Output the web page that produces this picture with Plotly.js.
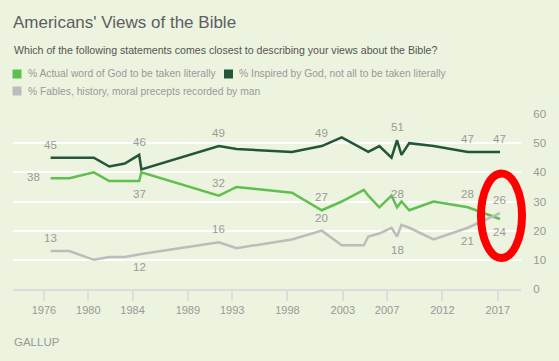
<!DOCTYPE html>
<html><head><meta charset="utf-8">
<script src="https://cdn.plot.ly/plotly-3.0.1.min.js"></script>
<style>html,body{margin:0;padding:0;background:#ecf3de}#chart{width:559px;height:361px}</style>
</head><body><div id="chart"></div>
<script>
// ---- data ----
const surveyYears = [1976.6, 1978.3, 1980.5, 1981.9, 1983.3, 1984.6, 1984.8, 1991.8, 1993.4, 1998.4, 2001.1, 2002.9, 2004.9, 2005.3, 2006.3, 2007.4, 2007.9, 2008.3, 2009.0, 2011.2, 2014.3, 2017.2];
const literal  = [38, 38, 40, 37, 37, 37, 40, 32, 35, 33, 27, 30, 34, 32, 28, 32, 28, 30, 27, 30, 28, 24];
const inspired = [45, 45, 45, 42, 43, 46, 41, 49, 48, 47, 49, 52, 48, 47, 49, 45, 51, 46, 50, 49, 47, 47];
const fables   = [13, 13, 10, 11, 11, 12, 12, 16, 14, 17, 20, 15, 15, 18, 19, 21, 18, 22, 21, 17, 21, 26];
const seriesNames = [
  '% Actual word of God to be taken literally',
  '% Inspired by God, not all to be taken literally',
  '% Fables, history, moral precepts recorded by man'
];
const tickYears = [1976, 1980, 1984, 1989, 1993, 1998, 2003, 2007, 2012, 2017];
const yTicks = [0, 10, 20, 30, 40, 50, 60];
const labelIdx = [0, 5, 7, 10, 16, 20, 21];
const titleText = "Americans' Views of the Bible";
const subtitleText = 'Which of the following statements comes closest to describing your views about the Bible?';
const sourceText = 'GALLUP';

// ---- styling ----
const colors = ['#5fbf4f', '#22553a', '#bcbcbc'];
const labelPos = [
  ['l', 'b', 'a', 'a', 'a', 'a', 'b'],   // literal
  ['a', 'a', 'a', 'a', 'a', 'a', 'a'],   // inspired
  ['a', 'b', 'a', 'a', 'b', 'b', 'a']    // fables
];
const W = 559, H = 361, L = 13, R = 38, T = 114, B = 72;
const px = p => (p - L) / (W - L - R);
const py = p => (H - B - p) / (H - T - B);
const FONT = 'Liberation Sans, Arial, sans-serif';
const labelColor = '#9a9a9a';

const seriesVals = [literal, inspired, fables];
const traces = seriesVals.map((vals, k) => ({
  type: 'scatter', mode: 'lines', x: surveyYears, y: vals, name: seriesNames[k],
  line: {color: colors[k], width: 2.5}, showlegend: false, hoverinfo: 'x+y'
}));

const annotations = [];
seriesVals.forEach((vals, k) => {
  labelIdx.forEach((i, j) => {
    const p = labelPos[k][j];
    annotations.push({
      xref: 'x', yref: 'y', x: surveyYears[i], y: vals[i], text: String(vals[i]),
      showarrow: false, font: {family: FONT, size: 11.5, color: labelColor},
      yshift: p === 'a' ? 13 : (p === 'b' ? -13 : 1), xshift: p === 'l' ? -17 : 0
    });
  });
});
// subtitle
annotations.push({xref: 'paper', yref: 'paper', x: px(12), y: py(50), xanchor: 'left', yanchor: 'middle',
  text: subtitleText, showarrow: false, font: {family: FONT, size: 10.6, color: '#555'}});
// legend (manual, to match the reference layout)
const legendPos = [[12.5, 74], [224, 74], [12.5, 91]];
const shapes = [];
legendPos.forEach((pos, k) => {
  shapes.push({type: 'rect', xref: 'paper', yref: 'paper', x0: px(pos[0]), x1: px(pos[0] + 9),
    y0: py(pos[1] + 4.5), y1: py(pos[1] - 4.5), fillcolor: colors[k], line: {width: 0}});
  annotations.push({xref: 'paper', yref: 'paper', x: px(pos[0] + 13), y: py(pos[1]), xanchor: 'left', yanchor: 'middle',
    text: seriesNames[k], showarrow: false, font: {family: FONT, size: 10.3, color: '#9a9a9a'}});
});
// source
annotations.push({xref: 'paper', yref: 'paper', x: px(12), y: py(342), xanchor: 'left', yanchor: 'middle',
  text: sourceText, showarrow: false, font: {family: FONT, size: 11.5, color: '#9a9a9a'}});
// red highlight ellipse
shapes.push({type: 'circle', xref: 'paper', yref: 'paper', layer: 'above',
  x0: px(481), x1: px(522), y0: py(258), y1: py(173.5), line: {color: '#ff0000', width: 8}});

const layout = {
  width: W, height: H,
  margin: {l: L, r: R, t: T, b: B, pad: 0},
  paper_bgcolor: '#ecf3de', plot_bgcolor: '#ecf3de',
  title: {text: titleText, xref: 'paper', x: 0, xanchor: 'left', yref: 'container', y: 1 - 22 / H, yanchor: 'middle',
    font: {family: FONT, size: 17, color: '#5e5e5e'}},
  xaxis: {range: [1973.2, 2019.1], tickvals: tickYears, ticktext: tickYears.map(String),
    ticks: 'outside', ticklen: 10, tickwidth: 2, tickcolor: '#dcdcdc',
    showline: true, linecolor: '#dcdcdc', linewidth: 2, showgrid: false, zeroline: false,
    tickfont: {family: FONT, size: 11, color: '#999'}, fixedrange: true},
  yaxis: {range: [0, 60], tickvals: yTicks, side: 'right', showgrid: true, gridcolor: '#ffffff', gridwidth: 2,
    zeroline: false, showline: false, ticks: 'outside', ticklen: 9, tickcolor: 'rgba(0,0,0,0)',
    tickfont: {family: FONT, size: 11.5, color: '#999'}, fixedrange: true},
  annotations: annotations, shapes: shapes, showlegend: false
};
Plotly.newPlot('chart', traces, layout, {displayModeBar: false, staticPlot: true});
</script></body></html>
